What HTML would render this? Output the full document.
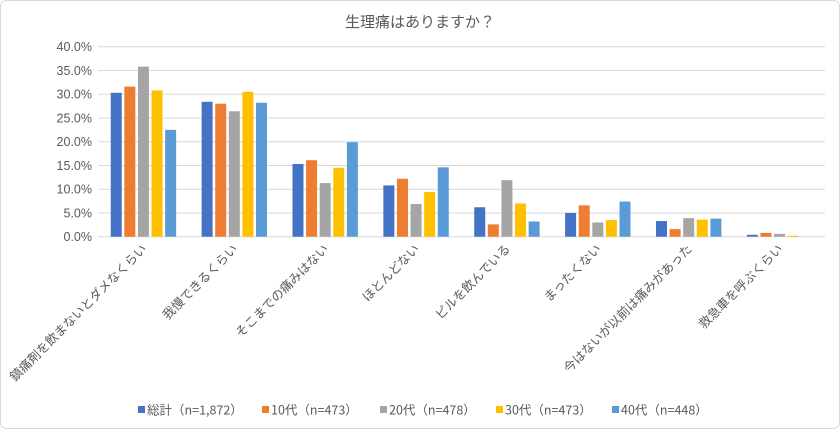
<!DOCTYPE html>
<html><head><meta charset="utf-8"><style>
body{margin:0;background:#fff;}
svg text{font-family:"Liberation Sans","Noto Sans CJK JP",sans-serif;fill:#595959;}
svg text.lg{font-family:"Noto Sans CJK JP",sans-serif;}
</style></head><body>
<svg width="840" height="429">
<rect x="0.5" y="0.5" width="839" height="428" rx="6" fill="#fff" stroke="#d9d9d9"/>
<text x="420" y="27" text-anchor="middle" font-size="15">生理痛はありますか？</text>
<g id="grid"></g><g id="bars"></g><g id="labels"></g><g id="legend"></g>
</svg>
<script>
const categories=["鎮痛剤を飲まないとダメなくらい","我慢できるくらい","そこまでの痛みはない","ほとんどない","ピルを飲んでいる","まったくない","今はないが以前は痛みがあった","救急車を呼ぶくらい"];
const seriesNames=["総計（n=1,872）","10代（n=473）","20代（n=478）","30代（n=473）","40代（n=448）"];
const s0=[30.3,28.4,15.3,10.8,6.2,5.0,3.3,0.4];
const s1=[31.6,28.0,16.1,12.2,2.6,6.6,1.6,0.8];
const s2=[35.8,26.4,11.3,6.9,11.9,3.0,3.9,0.6];
const s3=[30.8,30.5,14.5,9.4,7.0,3.5,3.6,0.2];
const s4=[22.5,28.2,19.9,14.6,3.2,7.4,3.8,0.0];
const ticks=[0,5,10,15,20,25,30,35,40];
const series=[s0,s1,s2,s3,s4];
const colors=["#4472c4","#ed7d31","#a5a5a5","#ffc000","#5b9bd5"];
const NS="http://www.w3.org/2000/svg";
const x0=98,x1=825,y0=236.7,yTop=46.7,maxV=40;
const y=v=>y0-(v/maxV)*(y0-yTop);
const bw=(x1-x0)/categories.length;
const barW=11,gap=2.6;
function mk(t,a,p){const e=document.createElementNS(NS,t);for(const k in a)e.setAttribute(k,a[k]);document.getElementById(p).appendChild(e);return e;}
ticks.forEach(t=>{
 const l=mk('line',{x1:x0,x2:x1,y1:y(t),y2:y(t),stroke:'#d9d9d9','stroke-width':1},'grid');
 
 
 const tx=mk('text',{x:92,y:y(t)+4.5,'text-anchor':'end','font-size':12.5},'grid');
 tx.textContent=t.toFixed(1)+'%';
 
 
});
categories.forEach((c,i)=>{
 const cx=x0+bw*(i+0.5);
 const total=5*barW+4*gap;
 series.forEach((s,j)=>{
  const bx=cx-total/2+j*(barW+gap);
  const r=mk('rect',{x:bx,y:y(s[i]),width:barW,height:y0-y(s[i]),fill:colors[j]},'bars');
  
  
 });
 const t=mk('text',{x:0,y:0,'text-anchor':'end','font-size':12.5,transform:`translate(${cx+4},${y0+13}) rotate(-45)`},'labels');
 t.textContent=c;
 
 
});
const lx=[138,262,380,496,612];
seriesNames.forEach((n,j)=>{
 const r=mk('rect',{x:lx[j],y:406,width:7,height:7,fill:colors[j]},'legend');
 
 
 const t=mk('text',{x:lx[j]+9,y:414.5,'font-size':12.5,'class':'lg'},'legend');
 t.textContent=n;
 
 
});
</script>
</body></html>
